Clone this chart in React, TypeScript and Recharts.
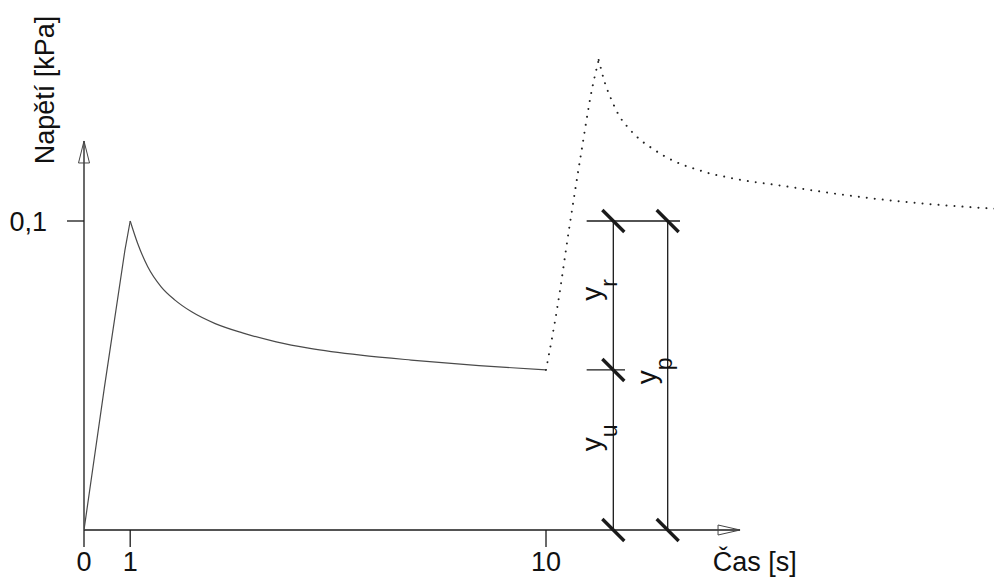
import { LineChart, Line, XAxis, YAxis, ReferenceLine, ReferenceDot } from "recharts";

// loading ramp and relaxation (solid), reloading (dotted)
const riseT = [0, 0.44, 0.69, 0.885, 1];
const riseV = [0, 0.046, 0.071, 0.0905, 0.1];

const decayT = [1, 1.16, 1.38, 1.67, 1.97, 2.33, 2.84, 3.43, 4.16, 4.89, 5.99, 7.08, 8.55, 10];
const decayV = [0.1, 0.0928, 0.0852, 0.0787, 0.0744, 0.0706, 0.0668, 0.0638, 0.0609, 0.0588, 0.0566, 0.055, 0.0532, 0.0518];

const reloadT = [10, 10.25, 10.5, 10.75, 11, 11.14];
const reloadV = [0.0518, 0.0725, 0.0975, 0.121, 0.143, 0.1521];

const tailT = [11.14, 11.28, 11.43, 11.57, 11.78, 12.03, 12.32, 12.61, 12.94, 13.26, 13.59, 13.95, 14.11, 15.06, 16.79, 18.53, 19.83];
const tailV = [0.1521, 0.1445, 0.1388, 0.1344, 0.1302, 0.1264, 0.1233, 0.1206, 0.1183, 0.1167, 0.1152, 0.1141, 0.1136, 0.1115, 0.1078, 0.1052, 0.1039];

const xTicks = [0, 1, 10];
const yTicks = [0.1];

// annotation geometry (data units)
const tR = 11.457; // y_r / y_u line
const tP = 12.634; // y_p line
const vTop = 0.1;
const vMid = 0.0518;
const xArrowT = 14.2;
const yArrowV = 0.1259;

const pts = (ts: number[], vs: number[]) => ts.map((t, i) => ({ t, v: vs[i] }));

const INK = "#1a1a1a";
const FONT = "'Liberation Sans', Arial, sans-serif";

const slash = (p: any) => (
  <line x1={p.cx - 11} y1={p.cy - 11} x2={p.cx + 11} y2={p.cy + 11} stroke={INK} strokeWidth={3.4} />
);

const upArrow = (p: any) => (
  <polygon
    points={`${p.cx},${p.cy} ${p.cx - 5.5},${p.cy + 22} ${p.cx + 5.5},${p.cy + 22}`}
    fill="none"
    stroke="#444"
    strokeWidth={1}
  />
);

const rightArrow = (p: any) => (
  <polygon
    points={`${p.cx},${p.cy} ${p.cx - 22},${p.cy - 5} ${p.cx - 22},${p.cy + 5}`}
    fill="none"
    stroke="#444"
    strokeWidth={1}
  />
);

const subLabel = (sub: string) => (p: any) => {
  const x = p.cx - 12;
  return (
    <text
      x={x}
      y={p.cy}
      transform={`rotate(-90 ${x} ${p.cy})`}
      textAnchor="middle"
      fontFamily={FONT}
      fontSize={28}
      fill="#111"
    >
      y
      <tspan fontSize={23} dy={16}>
        {sub}
      </tspan>
    </text>
  );
};

const yTitle = (p: any) => (
  <text
    x={p.cx - 30}
    y={p.cy}
    transform={`rotate(-90 ${p.cx - 30} ${p.cy})`}
    textAnchor="middle"
    fontFamily={FONT}
    fontSize={27}
    fill="#111"
  >
    Napětí [kPa]
  </text>
);

const xTitle = (p: any) => (
  <text x={p.cx} y={p.cy + 41} textAnchor="start" fontFamily={FONT} fontSize={27} fill="#111">
    Čas [s]
  </text>
);

const lineStyle = { stroke: INK, strokeWidth: 1.3 };

export default function App() {
  return (
    <div style={{ width: 994, height: 570, fontFamily: FONT }}>
      <LineChart width={994} height={570} margin={{ top: 27.6, right: 0, bottom: 0, left: 0 }}>
        <XAxis
          type="number"
          dataKey="t"
          domain={[0, 19.87]}
          allowDataOverflow
          ticks={xTicks}
          interval={0}
          height={48}
          axisLine={false}
          tickSize={17}
          tickMargin={5}
          tickLine={lineStyle}
          tick={{ fontSize: 27, fill: "#111", fontFamily: FONT }}
        />
        <YAxis
          type="number"
          dataKey="v"
          domain={[0, 0.16]}
          allowDataOverflow
          ticks={yTicks}
          width={76}
          axisLine={false}
          tickSize={17}
          tickMargin={20}
          tickLine={lineStyle}
          tickFormatter={(v: number) => String(v).replace(".", ",")}
          tick={{ fontSize: 27, fill: "#111", fontFamily: FONT }}
        />

        {/* axes with open arrowheads */}
        <ReferenceLine segment={[{ x: 0, y: 0 }, { x: 0, y: yArrowV }]} {...lineStyle} />
        <ReferenceLine segment={[{ x: 0, y: 0 }, { x: xArrowT, y: 0 }]} {...lineStyle} />
        <ReferenceDot x={0} y={yArrowV} shape={upArrow} />
        <ReferenceDot x={xArrowT} y={0} shape={rightArrow} />

        {/* y_r, y_u, y_p construction lines */}
        <ReferenceLine segment={[{ x: tR, y: 0 }, { x: tR, y: vTop }]} {...lineStyle} />
        <ReferenceLine segment={[{ x: tP, y: 0 }, { x: tP, y: vTop }]} {...lineStyle} />
        <ReferenceLine segment={[{ x: 10.88, y: vTop }, { x: 12.9, y: vTop }]} {...lineStyle} />
        <ReferenceLine segment={[{ x: 10.88, y: vMid }, { x: 11.71, y: vMid }]} {...lineStyle} />
        <ReferenceDot x={tR} y={vTop} shape={slash} />
        <ReferenceDot x={tP} y={vTop} shape={slash} />
        <ReferenceDot x={tR} y={vMid} shape={slash} />
        <ReferenceDot x={tR} y={0} shape={slash} />
        <ReferenceDot x={tP} y={0} shape={slash} />

        <ReferenceDot x={tR} y={0.0777} shape={subLabel("r")} />
        <ReferenceDot x={tP} y={0.0515} shape={subLabel("p")} />
        <ReferenceDot x={tR} y={0.0298} shape={subLabel("u")} />

        <ReferenceDot x={0} y={0.1424} shape={yTitle} />
        <ReferenceDot x={13.61} y={0} shape={xTitle} />

        <Line data={pts(riseT, riseV)} dataKey="v" type="linear" stroke="#4a4a4a" strokeWidth={1.2} dot={false} activeDot={false} isAnimationActive={false} />
        <Line data={pts(decayT, decayV)} dataKey="v" type="monotone" stroke="#4a4a4a" strokeWidth={1.2} dot={false} activeDot={false} isAnimationActive={false} />
        <Line data={pts(reloadT, reloadV)} dataKey="v" type="monotone" stroke="#222" strokeWidth={2} strokeDasharray="0.01 8" strokeLinecap="round" dot={false} activeDot={false} isAnimationActive={false} />
        <Line data={pts(tailT, tailV)} dataKey="v" type="monotone" stroke="#222" strokeWidth={2} strokeDasharray="0.01 8" strokeLinecap="round" dot={false} activeDot={false} isAnimationActive={false} />
      </LineChart>
    </div>
  );
}
